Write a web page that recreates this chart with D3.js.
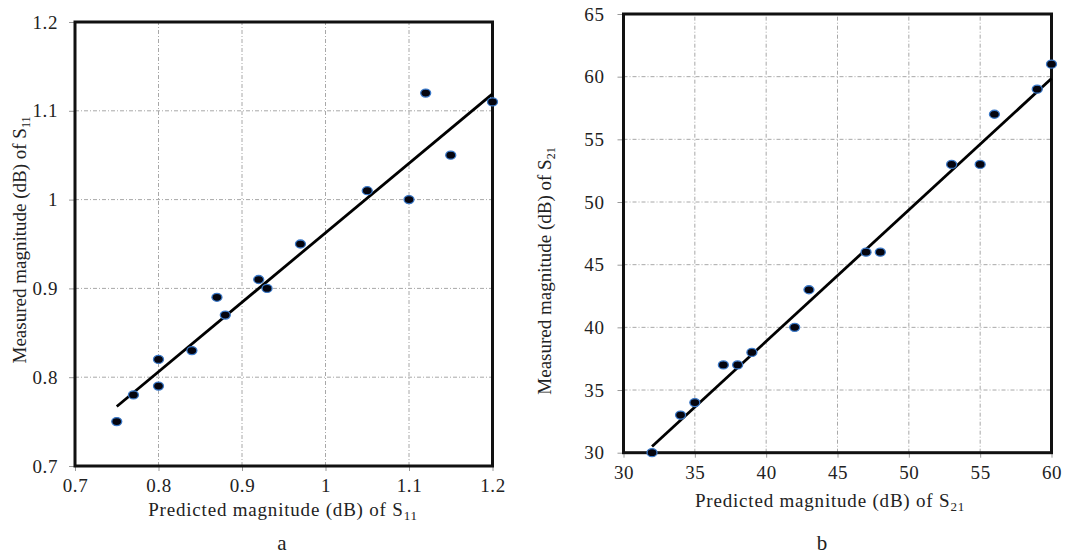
<!DOCTYPE html>
<html>
<head>
<meta charset="utf-8">
<script src="https://cdn.jsdelivr.net/npm/d3@7/dist/d3.min.js"></script>
<style>
  html, body { margin: 0; padding: 0; background: #fff; }
  svg { display: block; font-family: "Liberation Serif", "Times New Roman", serif; }
</style>
</head>
<body>
<svg id="chart" width="1089" height="556"></svg>
<script>
// ---- Data: panel a (S11) ----
const predS11 = [0.75, 0.77, 0.80, 0.80, 0.84, 0.87, 0.88, 0.92, 0.93, 0.97, 1.05, 1.10, 1.12, 1.15, 1.20];
const measS11 = [0.75, 0.78, 0.82, 0.79, 0.83, 0.89, 0.87, 0.91, 0.90, 0.95, 1.01, 1.00, 1.12, 1.05, 1.11];
const fitXS11 = [0.75, 1.20];
const fitYS11 = [0.767, 1.119];
const ticksXS11 = [0.7, 0.8, 0.9, 1.0, 1.1, 1.2];
const ticksYS11 = [0.7, 0.8, 0.9, 1.0, 1.1, 1.2];
const tickLabelsXS11 = ["0.7", "0.8", "0.9", "1", "1.1", "1.2"];
const tickLabelsYS11 = ["0.7", "0.8", "0.9", "1", "1.1", "1.2"];

// ---- Data: panel b (S21) ----
const predS21 = [32, 34, 35, 37, 38, 39, 42, 43, 47, 48, 53, 55, 56, 59, 60];
const measS21 = [30, 33, 34, 37, 37, 38, 40, 43, 46, 46, 53, 53, 57, 59, 61];
const fitXS21 = [32, 60];
const fitYS21 = [30.5, 59.85];
const ticksXS21 = [30, 35, 40, 45, 50, 55, 60];
const ticksYS21 = [30, 35, 40, 45, 50, 55, 60, 65];

const svg = d3.select("#chart");

function panel(cfg) {
  const x = d3.scaleLinear().domain(cfg.xDomain).range(cfg.xRange);
  const y = d3.scaleLinear().domain(cfg.yDomain).range(cfg.yRange);
  const g = svg.append("g");

  // grid
  g.append("g").selectAll("line").data(cfg.xTicks.slice(1, -1)).join("line")
    .attr("x1", d => x(d)).attr("x2", d => x(d))
    .attr("y1", cfg.yRange[0]).attr("y2", cfg.yRange[1])
    .attr("stroke", "#a8a8a8").attr("stroke-width", 1).attr("stroke-dasharray", "4,2,1,2");
  g.append("g").selectAll("line").data(cfg.yTicks.slice(1, -1)).join("line")
    .attr("y1", d => y(d)).attr("y2", d => y(d))
    .attr("x1", cfg.xRange[0]).attr("x2", cfg.xRange[1])
    .attr("stroke", "#a8a8a8").attr("stroke-width", 1).attr("stroke-dasharray", "4,2,1,2");

  // axes with ticks
  const xAxis = d3.axisBottom(x).tickValues(cfg.xTicks).tickSize(5).tickPadding(8)
    .tickFormat((d, i) => cfg.xLabels ? cfg.xLabels[i] : d);
  const yAxis = d3.axisLeft(y).tickValues(cfg.yTicks).tickSize(6).tickPadding(cfg.yPad)
    .tickFormat((d, i) => cfg.yLabels ? cfg.yLabels[i] : d);

  const gx = g.append("g").attr("transform", `translate(0,${cfg.yRange[0]})`).call(xAxis);
  const gy = g.append("g").attr("transform", `translate(${cfg.xRange[0]},0)`).call(yAxis);
  [gx, gy].forEach(a => {
    a.select(".domain").remove();
    a.selectAll(".tick line").attr("stroke", "#999");
    a.selectAll(".tick text").attr("font-family", "Liberation Serif, serif")
      .attr("font-size", 19).attr("letter-spacing", 0.6).attr("fill", "#222");
  });

  // frame
  g.append("rect")
    .attr("x", cfg.xRange[0]).attr("y", cfg.yRange[1])
    .attr("width", cfg.xRange[1] - cfg.xRange[0]).attr("height", cfg.yRange[0] - cfg.yRange[1])
    .attr("fill", "none").attr("stroke", "#111").attr("stroke-width", 3);

  // fit line
  const line = d3.line().x(d => x(d[0])).y(d => y(d[1]));
  g.append("path").datum(d3.zip(cfg.fitX, cfg.fitY))
    .attr("d", line).attr("fill", "none").attr("stroke", "#000").attr("stroke-width", 2.8);

  // points
  g.append("g").selectAll("ellipse").data(d3.zip(cfg.px, cfg.py)).join("ellipse")
    .attr("cx", d => x(d[0])).attr("cy", d => y(d[1]))
    .attr("rx", 5).attr("ry", 4)
    .attr("fill", "#05050f").attr("stroke", "#3a78c8").attr("stroke-width", 1.3);

  // x title
  const xt = g.append("text")
    .attr("x", cfg.xTitlePos[0]).attr("y", cfg.xTitlePos[1])
    .attr("text-anchor", "middle").attr("font-size", 19).attr("letter-spacing", 0.8).attr("fill", "#222");
  xt.append("tspan").text("Predicted magnitude (dB)  of S");
  xt.append("tspan").attr("font-size", 13).attr("dy", 4).text(cfg.sub);

  // y title
  const yt = g.append("text")
    .attr("transform", `translate(${cfg.yTitlePos[0]},${cfg.yTitlePos[1]}) rotate(-90)`)
    .attr("text-anchor", "middle").attr("font-size", 19).attr("fill", "#222");
  yt.append("tspan").text("Measured magnitude (dB) of S");
  yt.append("tspan").attr("font-size", 12).attr("dy", 4).text(cfg.sub);

  // panel letter
  g.append("text").attr("x", cfg.letterPos[0]).attr("y", cfg.letterPos[1])
    .attr("text-anchor", "middle").attr("font-size", 21).attr("fill", "#222").text(cfg.letter);
}

panel({
  xDomain: [0.7, 1.2], yDomain: [0.7, 1.2],
  xRange: [75, 492.5], yRange: [466, 22],
  xTicks: ticksXS11, yTicks: ticksYS11, xLabels: tickLabelsXS11, yLabels: tickLabelsYS11, yPad: 11,
  px: predS11, py: measS11, fitX: fitXS11, fitY: fitYS11,
  sub: "11", xTitlePos: [283, 516], yTitlePos: [26, 240], letter: "a", letterPos: [282, 550]
});

panel({
  xDomain: [30, 60], yDomain: [30, 65],
  xRange: [623.5, 1051.5], yRange: [452.7, 14],
  xTicks: ticksXS21, yTicks: ticksYS21, yPad: 13,
  px: predS21, py: measS21, fitX: fitXS21, fitY: fitYS21,
  sub: "21", xTitlePos: [830, 507], yTitlePos: [551, 271], letter: "b", letterPos: [822, 550]
});
</script>
</body>
</html>
